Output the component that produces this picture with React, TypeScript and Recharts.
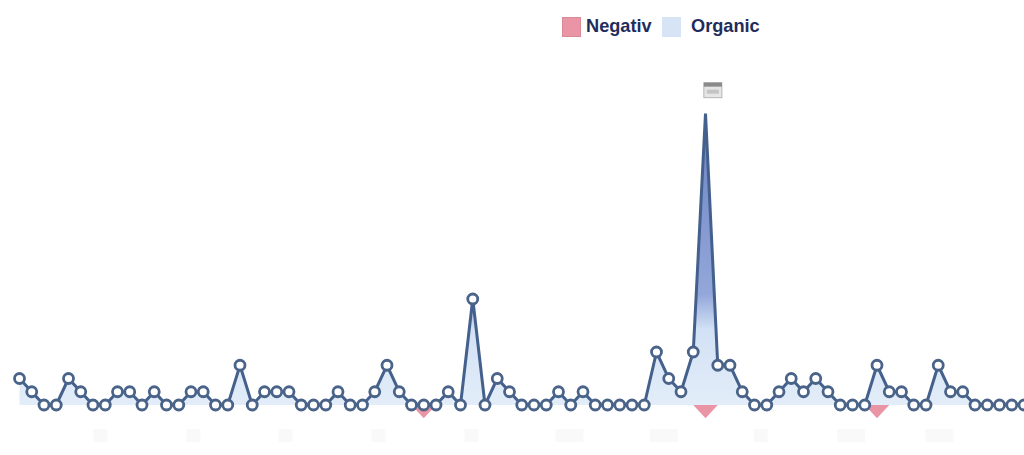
import React from "react";
import { ComposedChart, Area, XAxis, YAxis, ReferenceDot } from "recharts";

const organic = [
  2, 1, 0, 0, 2, 1, 0, 0, 1, 1, 0, 1, 0, 0, 1, 1, 0, 0, 3, 0,
  1, 1, 1, 0, 0, 0, 1, 0, 0, 1, 3, 1, 0, 0, 0, 1, 0, 8, 0, 2,
  1, 0, 0, 0, 1, 0, 1, 0, 0, 0, 0, 0, 4, 2, 1, 4, 22, 3, 3, 1,
  0, 0, 1, 2, 1, 2, 1, 0, 0, 0, 3, 1, 1, 0, 0, 3, 1, 1, 0, 0,
  0, 0, 0,
];
const negativeIndexes = [33, 56, 70];
const tickPositions = [6.6, 14.2, 21.7, 29.3, 36.9, 44.9, 52.6, 60.5, 67.9, 75.1];
const tickWidths = [14, 14, 14, 14, 14, 28, 28, 14, 28, 28];
const legendItems = [
  { name: "Negativ", color: "#ea95a5", border: "#d98a96", textWidth: 66 },
  { name: "Organic", color: "#d6e4f6", border: "#d6e4f6", textWidth: 70 },
];
const data = organic.map((v, i) => ({
  i,
  organic: v,
  negative: negativeIndexes.includes(i) ? -1 : 0,
}));

const renderDot = (p: any) => {
  if (p.index === 56) return <g key={p.index} />;
  return <circle key={p.index} cx={p.cx} cy={p.cy} r={5} fill="#fff" stroke="#4a6389" strokeWidth={2.8} />;
};

const BlobTick = (p: any) => {
  const idx = tickPositions.indexOf(p.payload.value);
  const w = tickWidths[idx] ?? 14;
  return <rect x={p.x - w / 2} y={429} width={w} height={13} fill="#f9f9f9" />;
};

const LegendBox = () => (
  <div style={{ position: "absolute", left: 562, top: 16, display: "flex", alignItems: "center", fontFamily: "'Liberation Sans', sans-serif", fontWeight: 700, fontSize: 18.2, color: "#1f2d5c" }}>
    {legendItems.map((it, k) => (
      <React.Fragment key={it.name}>
        <span style={{ width: 19, height: 20, background: it.color, border: `1px solid ${it.border}`, boxSizing: "border-box", marginRight: k === 0 ? 5 : 10 }} />
        <span style={{ width: it.textWidth, marginRight: 10, whiteSpace: "nowrap" }}>{it.name}</span>
      </React.Fragment>
    ))}
  </div>
);

export default function App() {
  return (
    <div style={{ position: "absolute", left: 0, top: 0, width: 1024, height: 455, background: "#fff", overflow: "hidden" }}>
      <ComposedChart width={1024} height={455} data={data} margin={{ top: 87, right: 0, bottom: 0, left: 19.5 }}>
        <defs>
          <linearGradient id="orgFill" x1="0" y1="0" x2="0" y2="1">
            <stop offset="0" stopColor="#6c83c2" />
            <stop offset="0.62" stopColor="#93a7da" />
            <stop offset="0.74" stopColor="#d2e1f5" />
            <stop offset="1" stopColor="#e3edf9" />
          </linearGradient>
        </defs>
        <XAxis dataKey="i" type="number" domain={[0, 82]} ticks={tickPositions} tick={<BlobTick />} axisLine={false} tickLine={false} height={23.5} interval={0} />
        <YAxis hide domain={[-2, 24]} />
        <Area dataKey="negative" name="Negativ" type="linear" stroke="none" fill="#ea95a5" fillOpacity={1} dot={false} activeDot={false} isAnimationActive={false} />
        <Area dataKey="organic" name="Organic" type="linear" stroke="#44608c" strokeWidth={3} fill="url(#orgFill)" fillOpacity={1} dot={renderDot} activeDot={false} isAnimationActive={false} />
        <ReferenceDot
          x={56.6}
          y={23.8}
          ifOverflow="visible"
          shape={(p: any) => (
            <g>
              <rect x={p.cx - 9} y={p.cy - 7} width={18} height={15} fill="#e6e6e6" stroke="#b5b5b5" />
              <rect x={p.cx - 9} y={p.cy - 7} width={18} height={4} fill="#8a8a8a" />
              <rect x={p.cx - 6} y={p.cy} width={12} height={4} fill="#c4c4c4" />
            </g>
          )}
        />
      </ComposedChart>
      <LegendBox />
    </div>
  );
}
